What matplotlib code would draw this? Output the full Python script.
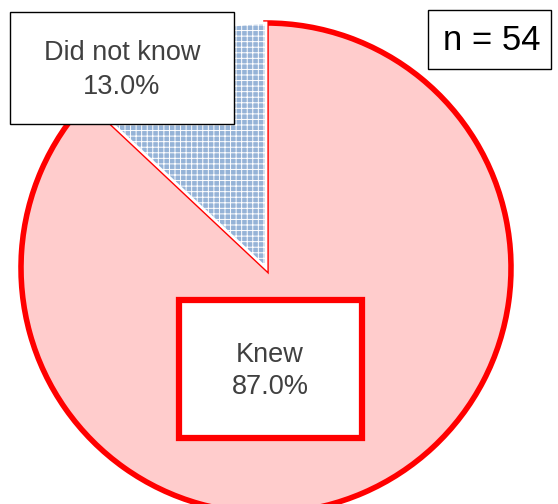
import matplotlib.pyplot as plt
from matplotlib.patches import Rectangle

plt.rcParams['font.family'] = ['Liberation Sans', 'DejaVu Sans']
plt.rcParams['hatch.linewidth'] = 0.7

# survey answers
labels = ["Knew", "Did not know"]
shares = [87.0, 13.0]
n_total = 54

W, H = 558, 504
fig = plt.figure(figsize=(W / 100, H / 100), dpi=100)
ax = fig.add_axes([0, 0, 1, 1])

wedges, _ = ax.pie(shares, startangle=90, counterclock=False,
                   center=(266, H - 268), radius=245, frame=True)

knew, dunno = wedges
knew.set_facecolor('#FFCCCC')
knew.set_edgecolor('#FF0000')
knew.set_linewidth(4)

dunno.set_facecolor('#95B3D7')
dunno.set_edgecolor('white')
dunno.set_hatch('+++')
dunno.set_linewidth(2)
dunno.set_zorder(3)

ax.set_xlim(0, W)
ax.set_ylim(0, H)
ax.set_aspect('equal')
ax.axis('off')

txt = '#404040'

# label for the small slice
ax.add_patch(Rectangle((10, H - 124), 224, 112, facecolor='white',
                       edgecolor='#000000', linewidth=1, zorder=5))
ax.text(122, H - 70, f"{labels[1]}\n{shares[1]:.1f}%", ha='center', va='center',
        fontsize=19.5, color=txt, linespacing=1.35, zorder=6)

# label for the large slice
ax.add_patch(Rectangle((179, H - 438), 183, 138, facecolor='white',
                       edgecolor='#FF0000', linewidth=4.5, zorder=5))
ax.text(270, H - 371, f"{labels[0]}\n{shares[0]:.1f}%", ha='center', va='center',
        fontsize=19.5, color=txt, linespacing=1.35, zorder=6)

# sample size
ax.add_patch(Rectangle((428, H - 69), 123, 59, facecolor='white',
                       edgecolor='#000000', linewidth=1, zorder=5))
ax.text(492, H - 41, f"n = {n_total}", ha='center', va='center',
        fontsize=25, color='black', zorder=6)

fig.savefig('out.png', dpi=100)
